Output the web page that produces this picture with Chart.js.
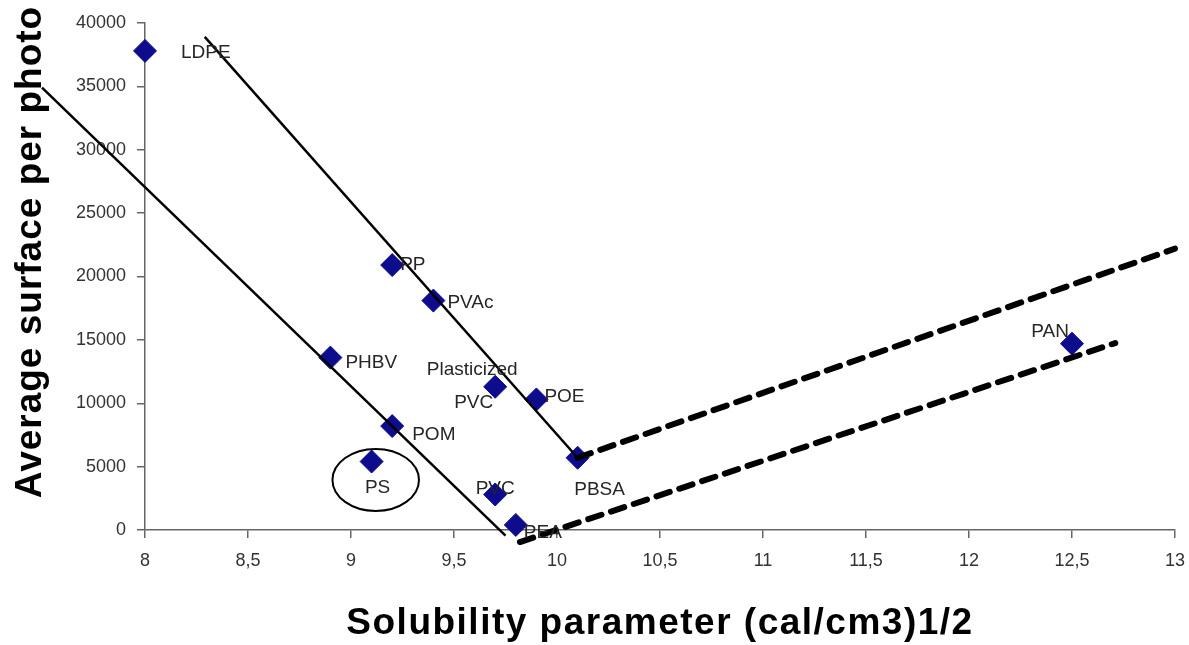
<!DOCTYPE html>
<html>
<head>
<meta charset="utf-8">
<script src="https://cdn.jsdelivr.net/npm/chart.js@4/dist/chart.umd.min.js"></script>
<style>
  html, body { margin: 0; padding: 0; background: #fff; }
  #wrap { width: 1189px; height: 645px; }
</style>
</head>
<body>
<div id="wrap"><canvas id="grafico" width="1189" height="645"></canvas></div>
<script>
// polymers (solubility parameter vs average surface per photo)
const polymers = ['LDPE', 'PP', 'PVAc', 'PHBV', 'Plasticized\nPVC', 'POE', 'POM', 'PS', 'PVC', 'PBSA', 'PEA', 'PAN'];
const solubility = [8.0, 9.2, 9.4, 8.9, 9.7, 9.9, 9.2, 9.1, 9.7, 10.1, 9.8, 12.5];
const surface = [37800, 20900, 18100, 13600, 11300, 10300, 8200, 5400, 2800, 5700, 400, 14700];

// trend lines, end points
const lineLeftX = [7.5, 9.75];
const lineLeftY = [34900, -450];
const lineMidX = [8.29, 10.1];
const lineMidY = [38900, 5700];
const dashUpperX = [10.1, 13.0];
const dashUpperY = [5700, 22200];
const dashLowerX = [9.82, 12.71];
const dashLowerY = [-950, 14750];

// ellipse round PS
const psMark = { x: 9.12, y: 3950, rx: 0.21, ry: 2450 };

// tick labels
const xTicks = [8, 8.5, 9, 9.5, 10, 10.5, 11, 11.5, 12, 12.5, 13];
const yTicks = [0, 5000, 10000, 15000, 20000, 25000, 30000, 35000, 40000];

// where each label sits from its point (px)
const labelPos = [
  { dx: 36, dy: 2, align: 'left' },
  { dx: 8, dy: 0, align: 'left' },
  { dx: 14, dy: 2, align: 'left' },
  { dx: 15, dy: 5, align: 'left' },
  { dx: -23, dy: -17, align: 'center' },
  { dx: 8, dy: -3, align: 'left' },
  { dx: 20, dy: 9, align: 'left' },
  { dx: 6, dy: 26, align: 'center' },
  { dx: 0, dy: -6, align: 'center' },
  { dx: 22, dy: 32, align: 'center' },
  { dx: 8, dy: 8, align: 'left' },
  { dx: -3, dy: -12, align: 'right' }
];

const pontos = solubility.map((x, i) => ({ x: x, y: surface[i] }));
const par = (xs, ys) => xs.map((x, i) => ({ x: x, y: ys[i] }));

const linhaBase = {
  type: 'line',
  borderColor: '#000',
  pointRadius: 0,
  fill: false,
  clip: false,
  order: 1
};

const rotulos = {
  id: 'rotulos',
  afterDatasetsDraw(chart) {
    const ctx = chart.ctx;
    const meta = chart.getDatasetMeta(4);
    ctx.save();
    ctx.font = '19px "Liberation Sans", Arial, sans-serif';
    ctx.fillStyle = '#262626';
    ctx.textBaseline = 'middle';
    meta.data.forEach((p, i) => {
      const pos = labelPos[i];
      ctx.textAlign = pos.align;
      const linhas = polymers[i].split('\n');
      ctx.fillText(linhas[0], p.x + pos.dx, p.y + pos.dy);
      if (linhas.length > 1) {
        ctx.textAlign = 'right';
        ctx.fillText(linhas[1], p.x - 2, p.y + 16);
      }
    });
    // ellipse round PS
    const sx = chart.scales.x, sy = chart.scales.y;
    const cx = sx.getPixelForValue(psMark.x);
    const cy = sy.getPixelForValue(psMark.y);
    const rx = sx.getPixelForValue(psMark.x + psMark.rx) - cx;
    const ry = cy - sy.getPixelForValue(psMark.y + psMark.ry);
    ctx.beginPath();
    ctx.ellipse(cx, cy, rx, ry, 0, 0, Math.PI * 2);
    ctx.lineWidth = 2;
    ctx.strokeStyle = '#000';
    ctx.stroke();

    // axis titles
    ctx.fillStyle = '#000';
    ctx.font = 'bold 37px "Liberation Sans", Arial, sans-serif';
    ctx.letterSpacing = '1.5px';
    ctx.textAlign = 'center';
    ctx.fillText('Solubility parameter (cal/cm3)1/2', (chart.chartArea.left + chart.chartArea.right) / 2, 624);
    ctx.letterSpacing = '1px';
    ctx.translate(31, 252);
    ctx.rotate(-Math.PI / 2);
    ctx.fillText('Average surface per photo', 0, 0);
    ctx.restore();
  }
};

const ctx = document.getElementById('grafico').getContext('2d');

const grafico = new Chart(ctx, {
  type: 'scatter',
  data: {
    datasets: [
      { ...linhaBase, data: par(lineLeftX, lineLeftY), borderWidth: 2.5 },
      { ...linhaBase, data: par(lineMidX, lineMidY), borderWidth: 2.5 },
      { ...linhaBase, data: par(dashUpperX, dashUpperY), borderWidth: 6, borderDash: [14, 10], borderCapStyle: 'round' },
      { ...linhaBase, data: par(dashLowerX, dashLowerY), borderWidth: 6, borderDash: [14, 10], borderCapStyle: 'round' },
      {
        label: 'Polymers',
        data: pontos,
        pointStyle: 'rectRot',
        pointRadius: 11.5,
        pointHoverRadius: 11.5,
        backgroundColor: '#0c0c8c',
        borderColor: '#0c0c8c',
        borderWidth: 1,
        clip: false,
        order: 5
      }
    ]
  },
  options: {
    responsive: false,
    devicePixelRatio: 1,
    animation: false,
    layout: { padding: { top: 23, right: 14, left: 0, bottom: 0 } },
    plugins: {
      legend: { display: false },
      tooltip: { enabled: false }
    },
    scales: {
      x: {
        type: 'linear',
        min: 8,
        max: 13,
        afterFit: (s) => { s.height = 115; s.paddingLeft = 0; s.paddingRight = 0; },
        afterBuildTicks: (s) => { s.ticks = xTicks.map(v => ({ value: v })); },
        border: { display: true, color: '#666', width: 1.5 },
        grid: { drawOnChartArea: false, drawTicks: true, tickLength: 8, color: '#666', lineWidth: 1.5 },
        ticks: {
          color: '#333',
          padding: 12,
          font: { family: '"Liberation Sans", Arial, sans-serif', size: 18 },
          callback: (v) => String(v).replace('.', ',')
        }
      },
      y: {
        type: 'linear',
        min: 0,
        max: 40000,
        afterFit: (s) => { s.width = 145; s.paddingTop = 0; s.paddingBottom = 0; },
        afterBuildTicks: (s) => { s.ticks = yTicks.map(v => ({ value: v })); },
        border: { display: true, color: '#666', width: 1.5 },
        grid: { drawOnChartArea: false, drawTicks: true, tickLength: 8, color: '#666', lineWidth: 1.5 },
        ticks: {
          color: '#333',
          padding: 11,
          font: { family: '"Liberation Sans", Arial, sans-serif', size: 18 },
          callback: (v) => String(v)
        }
      }
    }
  },
  plugins: [rotulos]
});
</script>
</body>
</html>
